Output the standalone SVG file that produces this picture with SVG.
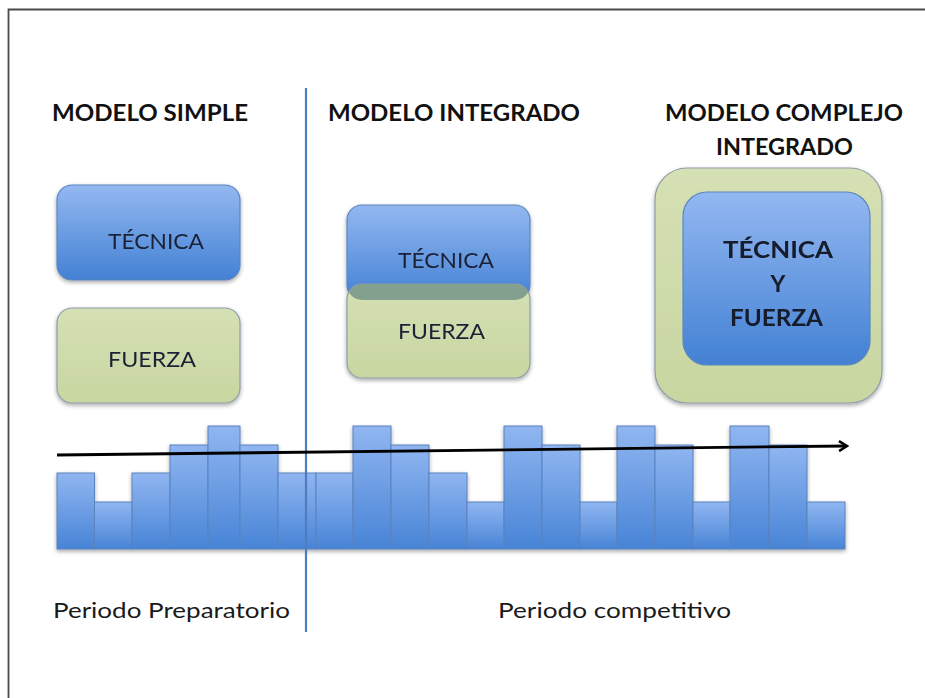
<svg xmlns="http://www.w3.org/2000/svg" width="925" height="698" viewBox="0 0 925 698">
<style>
.title{font-family:Lato,"Liberation Sans",sans-serif;font-weight:bold;font-size:23px;fill:#111}
.lbl{font-family:Lato,"Liberation Sans",sans-serif;font-size:22px;fill:#1c2236}
.blbl{font-family:Lato,"Liberation Sans",sans-serif;font-weight:bold;font-size:23px;fill:#141a2c}
.per{font-family:Lato,"Liberation Sans",sans-serif;font-size:22px;fill:#1a1a1a}
.bar{fill:url(#gBar);stroke:#5a82bd;stroke-width:1}
.blue{fill:url(#gBlue);stroke:#5c86bd;stroke-width:1.2}
.green{fill:url(#gGreen);stroke:#8e9ca8;stroke-width:1.2}
</style>
<defs>
<linearGradient id="gBar" x1="0" y1="0" x2="0" y2="1">
<stop offset="0" stop-color="#90b6f1"/><stop offset="1" stop-color="#4884d6"/>
</linearGradient>
<linearGradient id="gBlue" x1="0" y1="0" x2="0" y2="1">
<stop offset="0" stop-color="#93b8f1"/><stop offset="1" stop-color="#4381d4"/>
</linearGradient>
<linearGradient id="gGreen" x1="0" y1="0" x2="0" y2="1">
<stop offset="0" stop-color="#d5e0b4"/><stop offset="1" stop-color="#c8d6a1"/>
</linearGradient>
<filter id="sh" x="-10%" y="-10%" width="120%" height="125%">
<feGaussianBlur in="SourceAlpha" stdDeviation="2"/>
<feOffset dx="0" dy="2" result="b"/>
<feComponentTransfer><feFuncA type="linear" slope="0.35"/></feComponentTransfer>
<feMerge><feMergeNode/><feMergeNode in="SourceGraphic"/></feMerge>
</filter>
<clipPath id="clipMidBlue"><rect x="347" y="205" width="183" height="95" rx="15"/></clipPath>
<marker id="arr" markerWidth="12" markerHeight="12" refX="9" refY="6" orient="auto" markerUnits="userSpaceOnUse">
<path d="M2,1 L10,6 L2,11" fill="none" stroke="#000" stroke-width="2.5" stroke-linejoin="miter"/>
</marker>
</defs>
<rect width="925" height="698" fill="#fff"/>
<path d="M8.5,698 V9.5 H925" fill="none" stroke="#4a4a4a" stroke-width="1.8"/>

<g id="titles">
<text class="title" x="52" y="121" textLength="196" lengthAdjust="spacingAndGlyphs">MODELO SIMPLE</text>
<text class="title" x="328" y="121" textLength="252" lengthAdjust="spacingAndGlyphs">MODELO INTEGRADO</text>
<text class="title" x="665" y="121" textLength="238" lengthAdjust="spacingAndGlyphs">MODELO COMPLEJO</text>
<text class="title" x="716" y="155" textLength="137" lengthAdjust="spacingAndGlyphs">INTEGRADO</text>
</g>

<g id="simple-tecnica" filter="url(#sh)">
<rect class="blue" x="57" y="185" width="183" height="95" rx="15"/>
<text class="lbl" x="108" y="249" textLength="96" lengthAdjust="spacingAndGlyphs">TÉCNICA</text>
</g>
<g id="simple-fuerza" filter="url(#sh)">
<rect class="green" x="57" y="308" width="183" height="95" rx="15"/>
<text class="lbl" x="108" y="367" textLength="88" lengthAdjust="spacingAndGlyphs">FUERZA</text>
</g>

<g id="integrado" filter="url(#sh)">
<rect class="blue" x="347" y="205" width="183" height="95" rx="15"/>
<rect class="green" x="347" y="284" width="183" height="94" rx="15"/>
<rect x="347" y="284" width="183" height="94" rx="15" fill="#83a08f" clip-path="url(#clipMidBlue)"/>
<text class="lbl" x="398" y="268" textLength="96" lengthAdjust="spacingAndGlyphs">TÉCNICA</text>
<text class="lbl" x="398" y="339" textLength="87" lengthAdjust="spacingAndGlyphs">FUERZA</text>
</g>

<g id="complejo" filter="url(#sh)">
<rect class="green" x="655" y="168" width="227" height="235" rx="32"/>
<rect class="blue" x="683" y="192" width="187" height="173" rx="24"/>
<text class="blbl" x="723" y="258" textLength="110" lengthAdjust="spacingAndGlyphs">TÉCNICA</text>
<text class="blbl" x="778" y="292" text-anchor="middle">Y</text>
<text class="blbl" x="730" y="326" textLength="93" lengthAdjust="spacingAndGlyphs">FUERZA</text>
</g>

<g id="bars" filter="url(#sh)">
<rect class="bar" x="57" y="473" width="37.5" height="76"/>
<rect class="bar" x="94.5" y="502" width="37.5" height="47"/>
<rect class="bar" x="132" y="473" width="38" height="76"/>
<rect class="bar" x="170" y="445" width="38" height="104"/>
<rect class="bar" x="208" y="426" width="32" height="123"/>
<rect class="bar" x="240" y="445" width="38" height="104"/>
<rect class="bar" x="278" y="473" width="38" height="76"/>
<rect class="bar" x="316" y="473" width="37" height="76"/>
<rect class="bar" x="353" y="426" width="38" height="123"/>
<rect class="bar" x="391" y="445" width="38" height="104"/>
<rect class="bar" x="429" y="473" width="38" height="76"/>
<rect class="bar" x="467" y="502" width="37" height="47"/>
<rect class="bar" x="504" y="426" width="38" height="123"/>
<rect class="bar" x="542" y="445" width="38" height="104"/>
<rect class="bar" x="580" y="502" width="37" height="47"/>
<rect class="bar" x="617" y="426" width="38" height="123"/>
<rect class="bar" x="655" y="445" width="38" height="104"/>
<rect class="bar" x="693" y="502" width="37" height="47"/>
<rect class="bar" x="730" y="426" width="39" height="123"/>
<rect class="bar" x="769" y="445" width="38" height="104"/>
<rect class="bar" x="807" y="502" width="38" height="47"/>
</g>

<g id="connectors">
<line x1="306" y1="88" x2="306" y2="632" stroke="#4f7cbc" stroke-width="2.2"/>
<line x1="57" y1="455" x2="846" y2="446" stroke="#000" stroke-width="2.8" marker-end="url(#arr)"/>
</g>

<g id="periods">
<text class="per" x="53" y="618" textLength="237" lengthAdjust="spacingAndGlyphs">Periodo Preparatorio</text>
<text class="per" x="498" y="618" textLength="233" lengthAdjust="spacingAndGlyphs">Periodo competitivo</text>
</g>
</svg>
